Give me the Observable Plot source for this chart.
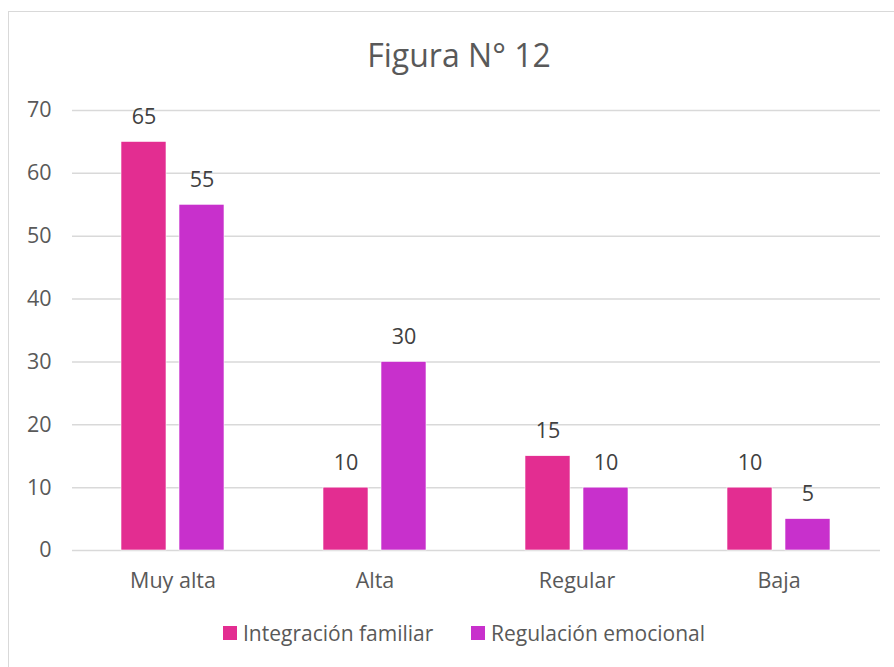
<!DOCTYPE html>
<html>
<head>
<meta charset="utf-8">
<script src="https://cdn.jsdelivr.net/npm/d3@7"></script>
<script src="https://cdn.jsdelivr.net/npm/@observablehq/plot@0.6"></script>
<style>
  html, body { margin: 0; padding: 0; background: #fff; width: 894px; height: 667px; overflow: hidden; font-family: "Open Sans", sans-serif; }
  #frame { position: absolute; left: 8px; top: 11px; width: 900px; height: 700px; border: 1.5px solid #d9d9d9; box-sizing: border-box; }
  #title { position: absolute; left: 0; width: 918px; top: 33px; text-align: center; font-size: 32px; color: #595959; }
  #chart { position: absolute; left: 0; top: 85px; }
  .leg { position: absolute; top: 619px; display: flex; align-items: center; font-size: 21px; color: #595959; white-space: nowrap; }
  .sw { width: 14px; height: 14px; margin-right: 6px; }
</style>
</head>
<body>
<div id="frame"></div>
<div id="title">Figura N° 12</div>
<div id="chart"></div>
<div class="leg" id="leg0" style="left:223px"></div>
<div class="leg" id="leg1" style="left:471px"></div>
<script>
const categories = ["Muy alta", "Alta", "Regular", "Baja"];
const series = ["Integración familiar", "Regulación emocional"];
const integracion = [65, 10, 15, 10];
const regulacion = [55, 30, 10, 5];
const yTicks = [0, 10, 20, 30, 40, 50, 60, 70];
const colors = ["#E32D91", "#C830CC"];

const data = categories.flatMap((c, i) => [
  {cat: c, s: series[0], v: integracion[i], k: 0},
  {cat: c, s: series[1], v: regulacion[i], k: 1}
]);

const groupW = 103, barW = 45, off = (groupW - barW) / 2;

const chart = Plot.plot({
  width: 894,
  height: 510,
  marginLeft: 72,
  marginRight: 14,
  marginTop: 25,
  marginBottom: 45,
  style: {fontFamily: "Open Sans, sans-serif", fontSize: "21px", color: "#595959", background: "transparent"},
  x: {domain: categories, paddingInner: 0.49, paddingOuter: 0.24, label: null},
  y: {domain: [0, 70], label: null},
  color: {domain: series, range: colors},
  marks: [
    Plot.ruleY(yTicks, {stroke: "#d9d9d9", strokeWidth: 1.5}),
    Plot.axisY(yTicks, {tickSize: 0, tickPadding: 21, fontSize: 21.5, fill: "#595959", label: null}),
    Plot.axisX(categories, {tickSize: 0, tickPadding: 22, fontSize: 21.5, fill: "#595959", label: null}),
    Plot.barY(data.filter(d => d.k === 0), {x: "cat", y: "v", fill: "s", insetRight: groupW - barW, stroke: "#fff", strokeWidth: 0.6}),
    Plot.barY(data.filter(d => d.k === 1), {x: "cat", y: "v", fill: "s", insetLeft: groupW - barW, stroke: "#fff", strokeWidth: 0.6}),
    Plot.text(data.filter(d => d.k === 0), {x: "cat", y: "v", text: d => String(d.v), dx: -off, dy: -25, fill: "#404040", fontSize: 21.5}),
    Plot.text(data.filter(d => d.k === 1), {x: "cat", y: "v", text: d => String(d.v), dx: off, dy: -25, fill: "#404040", fontSize: 21.5})
  ]
});
document.getElementById("chart").appendChild(chart);

series.forEach((s, i) => {
  const el = document.getElementById("leg" + i);
  const sw = document.createElement("div");
  sw.className = "sw";
  sw.style.background = colors[i];
  const t = document.createElement("span");
  t.textContent = s;
  el.appendChild(sw);
  el.appendChild(t);
});
</script>
</body>
</html>
